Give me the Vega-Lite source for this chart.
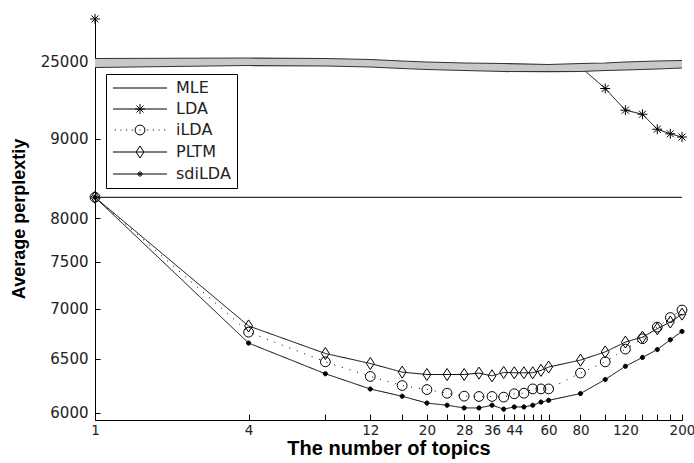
{
  "$schema": "https://vega.github.io/schema/vega-lite/v6.json",
  "width": 587,
  "height": 403,
  "autosize": {"type": "none"},
  "padding": {"left": 95, "top": 17, "right": 12, "bottom": 43},
  "background": "white",
  "config": {
    "view": {"stroke": null},
    "axis": {"domainColor": "black", "tickColor": "black", "labelColor": "#222", "labelFont": "DejaVu Sans", "titleFont": "Liberation Sans", "titleColor": "black", "titleFontWeight": "bold", "grid": false, "domainWidth": 1, "tickWidth": 1}
  },
  "datasets": {
    "perp": [
      {"series": "MLE", "topics": 1, "value": 8256}, {"series": "MLE", "topics": 200, "value": 8256},
      {"series": "LDA", "topics": 1, "value": 40000}, {"series": "LDA", "topics": 80, "value": 16782},
      {"series": "LDA", "topics": 100, "value": 9697}, {"series": "LDA", "topics": 120, "value": 9391},
      {"series": "LDA", "topics": 140, "value": 9335}, {"series": "LDA", "topics": 160, "value": 9130},
      {"series": "LDA", "topics": 180, "value": 9067}, {"series": "LDA", "topics": 200, "value": 9023},
      {"series": "iLDA", "topics": 1, "value": 8256}, {"series": "iLDA", "topics": 4, "value": 6764},
      {"series": "iLDA", "topics": 8, "value": 6470}, {"series": "iLDA", "topics": 12, "value": 6335},
      {"series": "iLDA", "topics": 16, "value": 6251}, {"series": "iLDA", "topics": 20, "value": 6214},
      {"series": "iLDA", "topics": 24, "value": 6180}, {"series": "iLDA", "topics": 28, "value": 6153},
      {"series": "iLDA", "topics": 32, "value": 6150}, {"series": "iLDA", "topics": 36, "value": 6150},
      {"series": "iLDA", "topics": 40, "value": 6144}, {"series": "iLDA", "topics": 44, "value": 6175},
      {"series": "iLDA", "topics": 48, "value": 6180}, {"series": "iLDA", "topics": 52, "value": 6220},
      {"series": "iLDA", "topics": 56, "value": 6220}, {"series": "iLDA", "topics": 60, "value": 6220},
      {"series": "iLDA", "topics": 80, "value": 6366}, {"series": "iLDA", "topics": 100, "value": 6470},
      {"series": "iLDA", "topics": 120, "value": 6595}, {"series": "iLDA", "topics": 140, "value": 6698},
      {"series": "iLDA", "topics": 160, "value": 6814}, {"series": "iLDA", "topics": 180, "value": 6910},
      {"series": "iLDA", "topics": 200, "value": 6985},
      {"series": "PLTM", "topics": 1, "value": 8256}, {"series": "PLTM", "topics": 4, "value": 6826},
      {"series": "PLTM", "topics": 8, "value": 6551}, {"series": "PLTM", "topics": 12, "value": 6455},
      {"series": "PLTM", "topics": 16, "value": 6375}, {"series": "PLTM", "topics": 20, "value": 6353},
      {"series": "PLTM", "topics": 24, "value": 6353}, {"series": "PLTM", "topics": 28, "value": 6353},
      {"series": "PLTM", "topics": 32, "value": 6366}, {"series": "PLTM", "topics": 36, "value": 6341},
      {"series": "PLTM", "topics": 40, "value": 6372}, {"series": "PLTM", "topics": 44, "value": 6369},
      {"series": "PLTM", "topics": 48, "value": 6369}, {"series": "PLTM", "topics": 52, "value": 6369},
      {"series": "PLTM", "topics": 56, "value": 6391}, {"series": "PLTM", "topics": 60, "value": 6422},
      {"series": "PLTM", "topics": 80, "value": 6486}, {"series": "PLTM", "topics": 100, "value": 6567},
      {"series": "PLTM", "topics": 120, "value": 6665}, {"series": "PLTM", "topics": 140, "value": 6714},
      {"series": "PLTM", "topics": 160, "value": 6798}, {"series": "PLTM", "topics": 180, "value": 6865},
      {"series": "PLTM", "topics": 200, "value": 6944},
      {"series": "sdiLDA", "topics": 1, "value": 8256}, {"series": "sdiLDA", "topics": 4, "value": 6655},
      {"series": "sdiLDA", "topics": 8, "value": 6360}, {"series": "sdiLDA", "topics": 12, "value": 6219},
      {"series": "sdiLDA", "topics": 16, "value": 6152}, {"series": "sdiLDA", "topics": 20, "value": 6089},
      {"series": "sdiLDA", "topics": 24, "value": 6069}, {"series": "sdiLDA", "topics": 28, "value": 6044},
      {"series": "sdiLDA", "topics": 32, "value": 6044}, {"series": "sdiLDA", "topics": 36, "value": 6069},
      {"series": "sdiLDA", "topics": 40, "value": 6033}, {"series": "sdiLDA", "topics": 44, "value": 6053},
      {"series": "sdiLDA", "topics": 48, "value": 6053}, {"series": "sdiLDA", "topics": 52, "value": 6069},
      {"series": "sdiLDA", "topics": 56, "value": 6098}, {"series": "sdiLDA", "topics": 60, "value": 6114},
      {"series": "sdiLDA", "topics": 80, "value": 6177}, {"series": "sdiLDA", "topics": 100, "value": 6307},
      {"series": "sdiLDA", "topics": 120, "value": 6429}, {"series": "sdiLDA", "topics": 140, "value": 6512},
      {"series": "sdiLDA", "topics": 160, "value": 6590}, {"series": "sdiLDA", "topics": 180, "value": 6688},
      {"series": "sdiLDA", "topics": 200, "value": 6771}
    ],
    "band": [
      {"topics": 1, "top": 25892, "bottom": 16097},
      {"topics": 4, "top": 26070, "bottom": 18836},
      {"topics": 8, "top": 25892, "bottom": 18152},
      {"topics": 12, "top": 25535, "bottom": 16782},
      {"topics": 16, "top": 25000, "bottom": 14728},
      {"topics": 20, "top": 23630, "bottom": 13358},
      {"topics": 28, "top": 22260, "bottom": 11988},
      {"topics": 40, "top": 21576, "bottom": 10619},
      {"topics": 60, "top": 20206, "bottom": 10345},
      {"topics": 80, "top": 21576, "bottom": 10619},
      {"topics": 100, "top": 22260, "bottom": 11988},
      {"topics": 120, "top": 23630, "bottom": 12673},
      {"topics": 160, "top": 25000, "bottom": 14043},
      {"topics": 200, "top": 25178, "bottom": 15412}
    ]
  },
  "encoding": {
    "x": {
      "field": "topics", "type": "quantitative",
      "scale": {"type": "log", "domain": [1, 200], "nice": false},
      "axis": {
        "title": "The number of topics",
        "values": [1, 4, 8, 12, 16, 20, 24, 28, 32, 36, 40, 44, 48, 52, 56, 60, 80, 100, 120, 140, 160, 180, 200],
        "labelExpr": "indexof([1,4,12,20,28,36,44,60,80,120,200], datum.value) >= 0 ? datum.label : ''",
        "format": "d", "tickSize": -6, "labelPadding": 9, "labelFontSize": 13.5,
        "labelOverlap": false, "labelFlush": false, "titleFontSize": 20, "titlePadding": 2
      }
    },
    "y": {
      "field": "value", "type": "quantitative",
      "scale": {
        "domain": [5935, 6000, 6500, 7000, 7500, 8000, 8500, 9000, 9500, 9934, 25000, 40700],
        "range": [403, 395.7, 341.6, 291.5, 244.9, 201.3, 160.3, 121.7, 85.2, 55, 44, 0],
        "nice": false, "zero": false
      },
      "axis": {
        "title": "Average perplextiy",
        "values": [6000, 6500, 7000, 7500, 8000, 9000, 25000],
        "format": "d", "tickSize": -5, "labelPadding": 12, "labelFontSize": 15,
        "titleFontSize": 18, "titlePadding": 12
      }
    }
  },
  "layer": [
    {
      "data": {"name": "perp"},
      "transform": [{"filter": "datum.series != 'LDA' || datum.topics >= 80"}],
      "mark": {"type": "line", "strokeWidth": 1, "color": "black"},
      "encoding": {
        "strokeDash": {
          "field": "series", "type": "nominal",
          "scale": {"domain": ["MLE", "LDA", "iLDA", "PLTM", "sdiLDA"], "range": [[1, 0], [1, 0], [1, 7], [1, 0], [1, 0]]},
          "legend": null
        }
      }
    },
    {
      "data": {"name": "band"},
      "mark": {"type": "area", "color": "#c8c8c8", "opacity": 1},
      "encoding": {
        "y": {"field": "top", "type": "quantitative", "title": "Average perplextiy",
          "scale": {
            "domain": [5935, 6000, 6500, 7000, 7500, 8000, 8500, 9000, 9500, 9934, 25000, 40700],
            "range": [403, 395.7, 341.6, 291.5, 244.9, 201.3, 160.3, 121.7, 85.2, 55, 44, 0],
            "nice": false, "zero": false
          }},
        "y2": {"field": "bottom"}
      }
    },
    {
      "data": {"name": "band"},
      "mark": {"type": "line", "color": "#333", "strokeWidth": 1.2},
      "encoding": {
        "y": {"field": "top", "type": "quantitative", "title": "Average perplextiy"}
      }
    },
    {
      "data": {"name": "band"},
      "mark": {"type": "line", "color": "#333", "strokeWidth": 1.2},
      "encoding": {
        "y": {"field": "bottom", "type": "quantitative", "title": "Average perplextiy"}
      }
    },
    {
      "data": {"name": "perp"},
      "transform": [{"filter": "datum.series != 'MLE' && !(datum.series == 'LDA' && datum.topics == 80)"}],
      "mark": {"type": "point", "size": 196, "strokeWidth": 1, "opacity": 1, "filled": false, "stroke": "black"},
      "encoding": {
        "shape": {
          "field": "series", "type": "nominal",
          "scale": {
            "domain": ["LDA", "iLDA", "PLTM", "sdiLDA"],
            "range": [
              "M-0.71,0H0.71M0,-0.71V0.71M-0.5,-0.5L0.5,0.5M-0.5,0.5L0.5,-0.5",
              "M-0.7,0A0.7,0.7 0 1,0 0.7,0A0.7,0.7 0 1,0 -0.7,0Z",
              "M0,-0.86L0.57,0L0,0.86L-0.57,0Z",
              "M-0.3,0A0.3,0.3 0 1,0 0.3,0A0.3,0.3 0 1,0 -0.3,0Z"
            ]
          },
          "legend": null
        },
        "fill": {"condition": {"test": "datum.series == 'sdiLDA'", "value": "black"}, "value": "transparent"}
      }
    },
    {
      "data": {"name": "perp"},
      "transform": [{"filter": "datum.topics == 1"}],
      "mark": {"type": "point", "size": 196, "opacity": 0, "filled": false, "stroke": "black"},
      "encoding": {
        "shape": {
          "field": "series", "type": "nominal", "title": null,
          "scale": {
            "domain": ["MLE", "LDA", "iLDA", "PLTM", "sdiLDA"],
            "range": [
              "M-3.86,0H3.86",
              "M-3.86,0H3.86M-0.71,0H0.71M0,-0.71V0.71M-0.5,-0.5L0.5,0.5M-0.5,0.5L0.5,-0.5",
              "M-3.6,0h0.15M-2.8,0h0.15M-2,0h0.15M-1.2,0h0.15M-0.07,0h0.15M1.05,0h0.15M1.85,0h0.15M2.65,0h0.15M3.45,0h0.15M-0.7,0A0.7,0.7 0 1,0 0.7,0A0.7,0.7 0 1,0 -0.7,0Z",
              "M-3.86,0H3.86M0,-0.86L0.57,0L0,0.86L-0.57,0Z",
              "M-3.86,0H3.86M-0.3,0A0.3,0.3 0 1,0 0.3,0A0.3,0.3 0 1,0 -0.3,0ZM-0.15,0A0.15,0.15 0 1,0 0.15,0A0.15,0.15 0 1,0 -0.15,0Z"
            ]
          },
          "legend": {
            "orient": "none", "legendX": 11, "legendY": 57,
            "fillColor": "white", "strokeColor": "black", "padding": 6,
            "symbolOpacity": 1, "symbolStrokeColor": "black", "symbolStrokeWidth": 1,
            "symbolFillColor": "transparent", "symbolSize": 196,
            "symbolOffset": 20, "labelOffset": 28,
            "labelFont": "DejaVu Sans", "labelFontSize": 16, "labelColor": "#222",
            "rowPadding": 5, "labelLimit": 200
          }
        }
      }
    }
  ],
  "resolve": {"scale": {"shape": "independent"}}
}
